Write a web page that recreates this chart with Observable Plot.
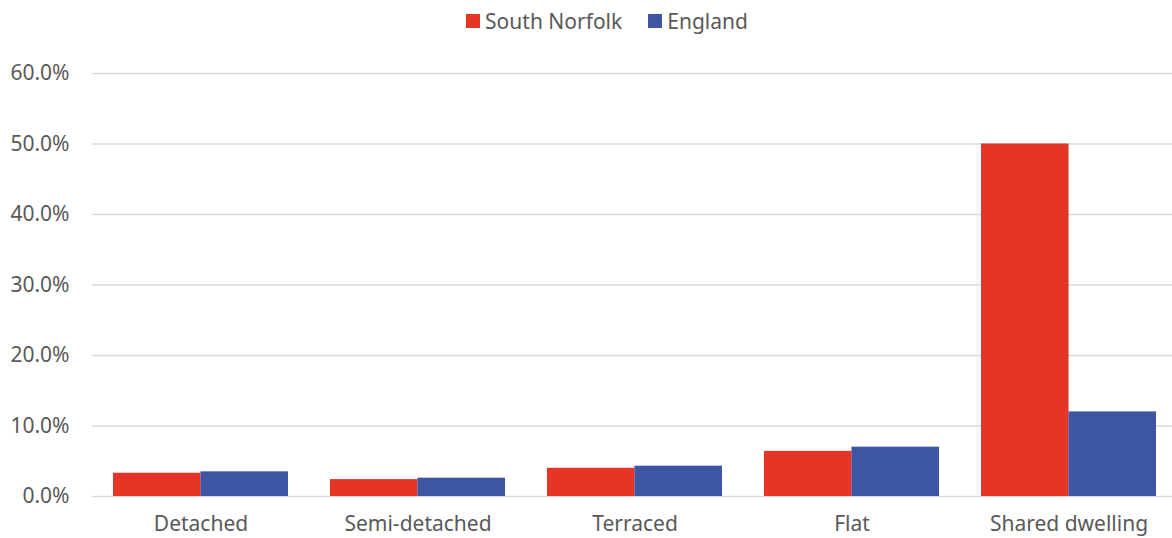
<!DOCTYPE html>
<html>
<head>
<meta charset="utf-8">
<script src="https://cdn.jsdelivr.net/npm/d3@7"></script>
<script src="https://cdn.jsdelivr.net/npm/@observablehq/plot@0.6"></script>
<style>
  html, body { margin: 0; padding: 0; background: #fff; }
  body { width: 1172px; height: 538px; overflow: hidden; font-family: "Noto Sans", sans-serif; }
  #legend { width: 1172px; height: 42px; display: flex; justify-content: center; align-items: center; gap: 26px; font-size: 21px; color: #595959; padding-left: 42px; box-sizing: border-box; }
  #legend .item { display: flex; align-items: center; gap: 5px; }
  #legend .sw { width: 14px; height: 14px; display: inline-block; }
  #chart { width: 1172px; overflow: hidden; }
</style>
</head>
<body>
<div id="legend"></div>
<div id="chart"></div>
<script>
const categories = ["Detached", "Semi-detached", "Terraced", "Flat", "Shared dwelling"];
const seriesNames = ["South Norfolk", "England"];
const southNorfolk = [0.033, 0.024, 0.040, 0.064, 0.500];
const england = [0.035, 0.026, 0.043, 0.070, 0.120];
const colors = ["#e53526", "#3c56a3"];
const yTicks = [0, 0.1, 0.2, 0.3, 0.4, 0.5, 0.6];

const snData = categories.map((c, i) => ({category: c, value: southNorfolk[i]}));
const enData = categories.map((c, i) => ({category: c, value: england[i]}));

const legend = document.getElementById("legend");
seriesNames.forEach((n, i) => {
  const it = document.createElement("div");
  it.className = "item";
  it.innerHTML = `<span class="sw" style="background:${colors[i]}"></span><span>${n}</span>`;
  legend.appendChild(it);
});

const W = 1177, mL = 92, mR = 0;
const step = (W - mL - mR) / categories.length;
const half = step * (1 - 0.194) / 2;

const chart = Plot.plot({
  width: W,
  height: 496,
  marginLeft: mL,
  marginRight: mR,
  marginTop: 31,
  marginBottom: 42,
  style: { fontFamily: "Noto Sans, sans-serif", fontSize: "21px", color: "#595959", background: "#fff", maxWidth: "none" },
  x: { domain: categories, paddingInner: 0.194, paddingOuter: 0.097, label: null, tickSize: 0, tickPadding: 20 },
  y: { domain: [0, 0.6], ticks: yTicks, tickFormat: d => (d * 100).toFixed(1) + "%", label: null, tickSize: 0, tickPadding: 23 },
  marks: [
    Plot.ruleY(yTicks, { stroke: "#d9d9d9", strokeWidth: 1.5 }),
    Plot.barY(snData, { x: "category", y: "value", fill: colors[0], insetRight: half }),
    Plot.barY(enData, { x: "category", y: "value", fill: colors[1], insetLeft: half })
  ]
});
document.getElementById("chart").appendChild(chart);
</script>
</body>
</html>
